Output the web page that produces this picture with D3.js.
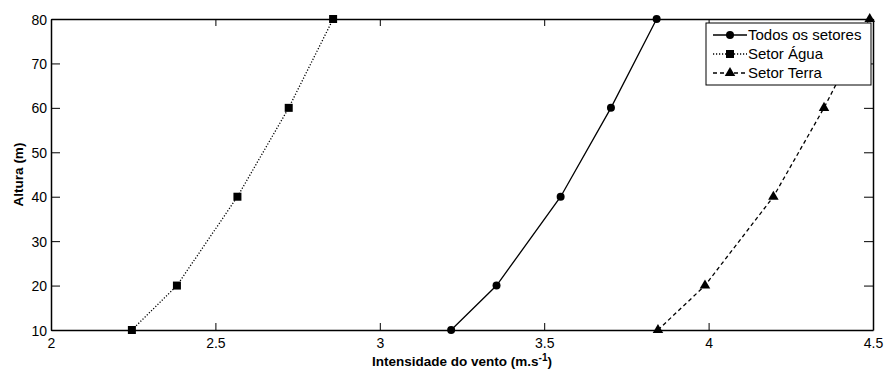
<!DOCTYPE html>
<html><head><meta charset="utf-8">
<script src="https://cdn.jsdelivr.net/npm/d3@7"></script>
<style>body{margin:0;background:#fff}svg{display:block;font-family:"Liberation Sans",Arial,sans-serif}</style>
</head><body><svg id="c" width="884" height="369"></svg>
<script>
const heights = [10, 20, 40, 60, 80];
const todos = [3.217, 3.355, 3.550, 3.703, 3.842];
const agua = [2.246, 2.383, 2.567, 2.723, 2.858];
const terra = [3.846, 3.989, 4.197, 4.351, 4.490];
const seriesNames = ["Todos os setores", "Setor Água", "Setor Terra"];
const xTicks = [2, 2.5, 3, 3.5, 4, 4.5];
const yTicks = [10, 20, 30, 40, 50, 60, 70, 80];

const svg = d3.select("#c");
const L = 51, R = 873, T = 19, B = 330;
const x = d3.scaleLinear().domain([2, 4.5]).range([L, R]);
const y = d3.scaleLinear().domain([10, 80]).range([B, T]);

const series = [
  {name: seriesNames[0], vals: todos, dash: null, marker: "circle"},
  {name: seriesNames[1], vals: agua, dash: "1.2,1.8", marker: "square"},
  {name: seriesNames[2], vals: terra, dash: "4,3", marker: "triangle"}
];

const fmt = d => d3.format("")(d);
const gx = svg.append("g").attr("transform", `translate(0,${B})`)
  .call(d3.axisBottom(x).tickValues(xTicks).tickSizeInner(-7).tickSizeOuter(0).tickPadding(8).tickFormat(fmt));
const gxt = svg.append("g").attr("transform", `translate(0,${T})`)
  .call(d3.axisTop(x).tickValues(xTicks).tickSizeInner(-7).tickSizeOuter(0).tickFormat(""));
const gy = svg.append("g").attr("transform", `translate(${L},0)`)
  .call(d3.axisLeft(y).tickValues(yTicks).tickSizeInner(-9).tickSizeOuter(0).tickPadding(4).tickFormat(fmt));
const gyr = svg.append("g").attr("transform", `translate(${R},0)`)
  .call(d3.axisRight(y).tickValues(yTicks).tickSizeInner(-9).tickSizeOuter(0).tickFormat(""));
[gx, gxt, gy, gyr].forEach(g => {
  g.select(".domain").attr("stroke", "#000").attr("stroke-width", 1.5);
  g.selectAll(".tick line").attr("stroke", "#000").attr("stroke-width", 1);
  g.selectAll("text").attr("font-size", 14).attr("fill", "#000").attr("font-family", "Liberation Sans, Arial, sans-serif");
});
gy.selectAll(".tick text").attr("dy", "0.36em");

const line = d3.line().x(d => x(d[0])).y(d => y(d[1]));
const tri = d3.symbol().type(d3.symbolTriangle).size(48);
function drawMarker(g, type, cx, cy) {
  if (type === "circle") g.append("circle").attr("cx", cx).attr("cy", cy).attr("r", 4).attr("fill", "#000");
  else if (type === "square") g.append("rect").attr("x", cx - 4).attr("y", cy - 4).attr("width", 8).attr("height", 8).attr("fill", "#000");
  else g.append("path").attr("d", tri).attr("transform", `translate(${cx},${cy})`).attr("fill", "#000");
}
series.forEach(s => {
  const pts = s.vals.map((v, i) => [v, heights[i]]);
  svg.append("path").datum(pts).attr("d", line).attr("fill", "none").attr("stroke", "#000")
    .attr("stroke-width", 1.3).attr("stroke-dasharray", s.dash);
  const mg = svg.append("g");
  pts.forEach(p => drawMarker(mg, s.marker, x(p[0]), y(p[1])));
});

svg.append("text").attr("x", (L + R) / 2).attr("y", 366).attr("text-anchor", "middle")
  .attr("font-size", 13.5).attr("font-weight", "bold")
  .html('Intensidade do vento (m.s<tspan dy="-5" font-size="10">-1</tspan><tspan dy="5">)</tspan>');
svg.append("text").attr("transform", `translate(23,${(T + B) / 2}) rotate(-90)`).attr("text-anchor", "middle")
  .attr("font-size", 13.5).attr("font-weight", "bold").text("Altura (m)");

const lg = svg.append("g");
lg.append("rect").attr("x", 706).attr("y", 23).attr("width", 165).attr("height", 62)
  .attr("fill", "#fff").attr("stroke", "#000").attr("stroke-width", 1);
series.forEach((s, i) => {
  const ly = 35 + i * 19;
  lg.append("line").attr("x1", 713).attr("x2", 747).attr("y1", ly).attr("y2", ly)
    .attr("stroke", "#000").attr("stroke-width", 1.3).attr("stroke-dasharray", s.dash);
  drawMarker(lg, s.marker, 730, ly);
  lg.append("text").attr("x", 748).attr("y", ly).attr("dy", "0.36em").attr("font-size", 15).text(s.name);
});
</script></body></html>
